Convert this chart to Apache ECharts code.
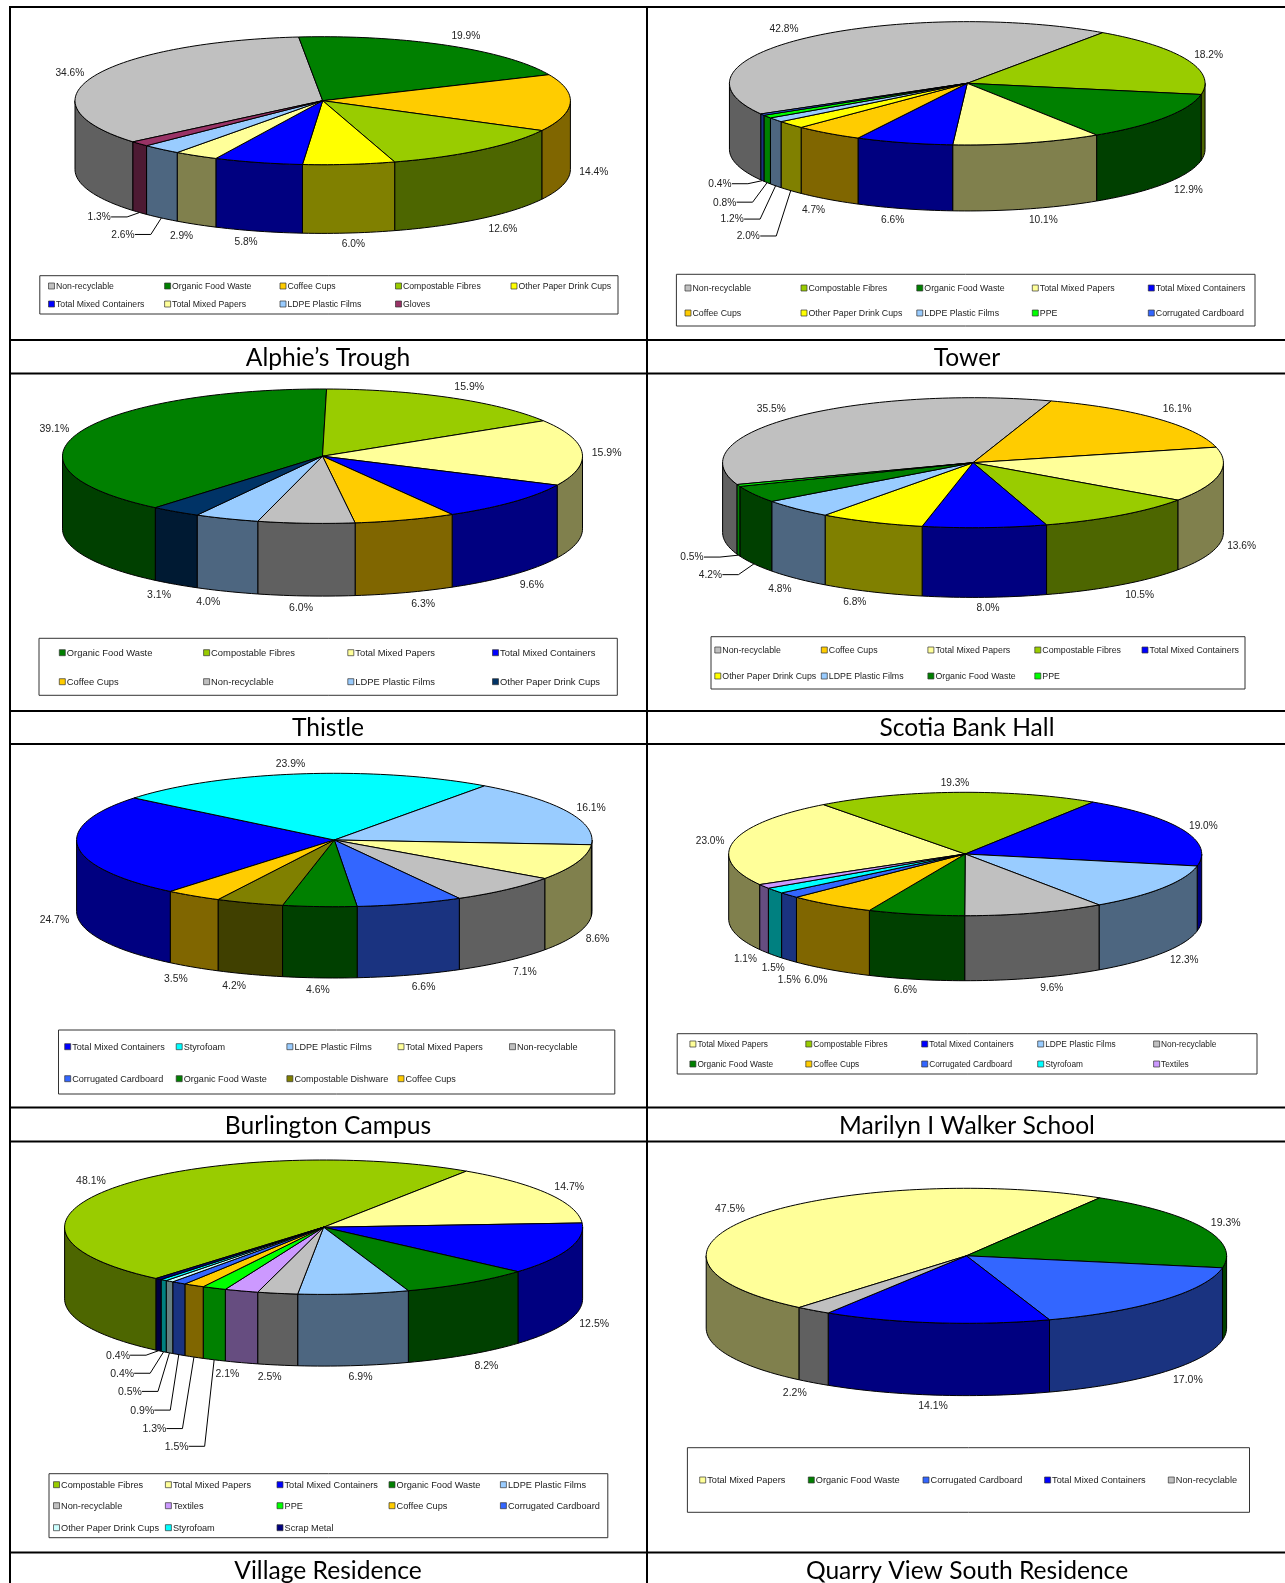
<!DOCTYPE html>
<html><head><meta charset="utf-8">
<style>html,body{margin:0;padding:0;background:#fff}#main{width:1285px;height:1583px}</style>
<script src="https://cdn.jsdelivr.net/npm/echarts@6/dist/echarts.min.js"></script>
</head><body><div id="main"></div>
<script>
// ---------- data ----------
const alphieCategories=['Non-recyclable','Organic Food Waste','Coffee Cups','Compostable Fibres','Other Paper Drink Cups','Total Mixed Containers','Total Mixed Papers','LDPE Plastic Films','Gloves'];
const alphieValues=[34.6,19.9,14.4,12.6,6.0,5.8,2.9,2.6,1.3];
const towerCategories=['Non-recyclable','Compostable Fibres','Organic Food Waste','Total Mixed Papers','Total Mixed Containers','Coffee Cups','Other Paper Drink Cups','LDPE Plastic Films','PPE','Corrugated Cardboard'];
const towerValues=[42.8,18.2,12.9,10.1,6.6,4.7,2.0,1.2,0.8,0.4];
const thistleCategories=['Organic Food Waste','Compostable Fibres','Total Mixed Papers','Total Mixed Containers','Coffee Cups','Non-recyclable','LDPE Plastic Films','Other Paper Drink Cups'];
const thistleValues=[39.1,15.9,15.9,9.6,6.3,6.0,4.0,3.1];
const scotiaCategories=['Non-recyclable','Coffee Cups','Total Mixed Papers','Compostable Fibres','Total Mixed Containers','Other Paper Drink Cups','LDPE Plastic Films','Organic Food Waste','PPE'];
const scotiaValues=[35.5,16.1,13.6,10.5,8.0,6.8,4.8,4.2,0.5];
const burlingtonCategories=['Total Mixed Containers','Styrofoam','LDPE Plastic Films','Total Mixed Papers','Non-recyclable','Corrugated Cardboard','Organic Food Waste','Compostable Dishware','Coffee Cups'];
const burlingtonValues=[24.7,23.9,16.1,8.6,7.1,6.6,4.6,4.2,3.5];
const marilynCategories=['Total Mixed Papers','Compostable Fibres','Total Mixed Containers','LDPE Plastic Films','Non-recyclable','Organic Food Waste','Coffee Cups','Corrugated Cardboard','Styrofoam','Textiles'];
const marilynValues=[23.0,19.3,19.0,12.3,9.6,6.6,6.0,1.5,1.5,1.1];
const villageCategories=['Compostable Fibres','Total Mixed Papers','Total Mixed Containers','Organic Food Waste','LDPE Plastic Films','Non-recyclable','Textiles','PPE','Coffee Cups','Corrugated Cardboard','Other Paper Drink Cups','Styrofoam','Scrap Metal'];
const villageValues=[48.1,14.7,12.5,8.2,6.9,2.5,2.1,1.5,1.3,0.9,0.5,0.4,0.4];
const quarryCategories=['Total Mixed Papers','Organic Food Waste','Corrugated Cardboard','Total Mixed Containers','Non-recyclable'];
const quarryValues=[47.5,19.3,17.0,14.1,2.2];

// ---------- styles ----------
const wasteColors={'Non-recyclable':'#C0C0C0','Organic Food Waste':'#008000','Coffee Cups':'#FFCC00','Compostable Fibres':'#99CC00','Other Paper Drink Cups':'#FFFF00','Total Mixed Containers':'#0000FF','Total Mixed Papers':'#FFFF99','LDPE Plastic Films':'#99CCFF','Gloves':'#993366','PPE':'#00FF00','Corrugated Cardboard':'#3366FF','Styrofoam':'#00FFFF','Compostable Dishware':'#808000','Textiles':'#CC99FF','Scrap Metal':'#000080'};
const FONT_FAMILY='"Liberation Sans", Arial, sans-serif';
const TEXT='#222';

// ---------- layout of the eight cells ----------
const cells=[
 {title:"Alphie’s Trough",tx:328,ty:358,categories:alphieCategories,values:alphieValues,cx:322.7,cy:100.7,rx:247.7,ry:64,depth:68.7,start:-130,labelSize:10.2,legendSize:8.7,
  legend:{box:[39.8,275.7,578.2,38.3],cols:[48.5,164.6,280,395.5,511],rows:[286,304]},leaders:{7:1,8:1},
  nudges:{0:[-1,1],1:[-4,1],2:[1,0],3:[0,-1],4:[-1,0],5:[1,0],6:[5,1],7:[-19,6],8:[-21,-5]}},
 {title:'Tower',tx:967,ty:358,categories:towerCategories,values:towerValues,cx:967.25,cy:83.3,rx:237.8,ry:61.65,depth:66,start:-119.8,labelSize:10.2,legendSize:8.8,
  legend:{box:[676.4,274.3,578.6,51.7],cols:[685,801,916.8,1032.3,1148.3],rows:[288,313]},leaders:{6:1,7:1,8:1,9:1},
  nudges:{0:[0,1],1:[-1,0],2:[1,-2],3:[3,0],4:[2,0],5:[5,0],6:[-23,36],7:[-24,25],8:[-23,12],9:[-23,-4]}},
 {title:'Thistle',tx:328,ty:728,categories:thistleCategories,values:thistleValues,cx:322.5,cy:456.2,rx:260,ry:67.2,depth:72.7,start:-140,labelSize:10.5,legendSize:9.4,
  colors:{'Other Paper Drink Cups':'#003366'},
  legend:{box:[39,638.3,578.3,57],cols:[59.3,203.6,347.8,492.5],rows:[652.7,681.7]},leaders:{},
  nudges:{0:[-2,1],1:[-4,-1],2:[2,1],3:[-1,0],4:[2,0],5:[-2,1],6:[0,0],7:[3,0]}},
 {title:'Scotia Bank Hall',tx:967,ty:728,categories:scotiaCategories,values:scotiaValues,cx:973,cy:462.7,rx:250.4,ry:65,depth:69.7,start:-109.6,labelSize:10.2,legendSize:8.8,
  legend:{box:[711,636.7,534,52.3],cols:[714.8,821.3,927.9,1034.8,1142],rows:[650,676]},leaders:{7:1,8:1},
  nudges:{0:[0,1],1:[-2,0],2:[0,-1],3:[-3,-1],4:[1,0],5:[3,-1],6:[3,0],7:[-24,4],8:[-27,-3]}},
 {title:'Burlington Campus',tx:328,ty:1126.5,categories:burlingtonCategories,values:burlingtonValues,cx:334.3,cy:840,rx:257.7,ry:66.7,depth:71.3,start:-140.5,labelSize:10.4,legendSize:9.1,
  legend:{box:[58.5,1030,556.3,64],cols:[64.7,176.2,286.9,398,509.5],rows:[1046.7,1078.7]},leaders:{},
  nudges:{0:[-1,0],1:[-3,0],2:[1,2],3:[1,0],4:[-1,0],5:[-1,1],6:[1,1],7:[1,1],8:[2,1]}},
 {title:'Marilyn I Walker School',tx:967,ty:1126.5,categories:marilynCategories,values:marilynValues,cx:965.2,cy:854,rx:236.5,ry:61.7,depth:65,start:-119.7,labelSize:10.1,legendSize:8.3,
  legend:{box:[677.2,1033.7,579.8,40.3],cols:[689.9,805.8,921.7,1037.7,1153.6],rows:[1044,1064]},leaders:{},
  nudges:{0:[-1,2],1:[0,1],2:[-2,1],3:[-1,-1],4:[2,-1],5:[0,0],6:[5,-1],7:[20,10],8:[18,4],9:[1,0]}},
 {title:'Village Residence',tx:328,ty:1571,categories:villageCategories,values:villageValues,cx:323.6,cy:1227.2,rx:259,ry:67.2,depth:71.7,start:-139.7,labelSize:10.5,legendSize:9.2,
  colors:{'Other Paper Drink Cups':'#CCFFFF'},
  legend:{box:[49,1473.7,558.8,64],cols:[53.5,165.4,277,389,500.4],rows:[1484.7,1505.7,1527.7]},leaders:{7:1,8:1,9:1,10:1,11:1,12:1},
  nudges:{0:[-3,2],1:[-1,0],2:[3,-2],3:[-1,0],4:[1,0],5:[1,1],6:[2,0],7:[-18,76],8:[-20,61],9:[-17,45],10:[-20,28],11:[-22,11],12:[-21,-6]}},
 {title:'Quarry View South Residence',tx:967,ty:1571,categories:quarryCategories,values:quarryValues,cx:966.4,cy:1255.8,rx:260.2,ry:67.5,depth:72.3,start:-140,labelSize:10.5,legendSize:9.2,
  legend:{box:[687.4,1447.7,562.1,64.6],cols:[699.7,808.3,923,1044.6,1168.3],rows:[1480]},leaders:{},
  nudges:{0:[-2,0],1:[0,0],2:[2,-2],3:[3,0],4:[1,-1]}}
];

// ---------- helpers ----------
const RAD=Math.PI/180;
function halfShade(hex){
  const n=parseInt(hex.slice(1),16);
  const c=[n>>16&255,n>>8&255,n&255].map(v=>Math.round(v/2));
  return 'rgb('+c.join(',')+')';
}
function clamp(v,m){return Math.max(-m,Math.min(m,v));}
function ell(cell,deg,drop){
  return [cell.cx+cell.rx*Math.sin(deg*RAD),cell.cy-cell.ry*Math.cos(deg*RAD)+(drop||0)];
}
function arcPoints(cell,a,b,drop){
  const n=Math.max(2,Math.ceil(Math.abs(b-a)/1.5)),pts=[];
  for(let i=0;i<=n;i++)pts.push(ell(cell,a+(b-a)*i/n,drop));
  return pts;
}
function colorOf(cell,name){return (cell.colors&&cell.colors[name])||wasteColors[name];}

function makeRender(cell){
  const sum=cell.values.reduce((a,b)=>a+b,0);
  let acc=cell.start;
  const spans=cell.values.map(v=>{const a=acc;acc+=v/sum*360;return [a,acc];});
  const labelFont=cell.labelSize+'px '+FONT_FAMILY,legendFont=cell.legendSize+'px '+FONT_FAMILY;
  return function(params,api){
    const i=params.dataIndex,value=api.value(0),name=cell.categories[i];
    const col=colorOf(cell,name),[a,b]=spans[i],children=[];
    // front wall: only the part of the slice that faces the viewer
    for(let k=-1;k<=1;k++){
      const lo=Math.max(a,90+360*k),hi=Math.min(b,270+360*k);
      if(hi>lo){
        const top=arcPoints(cell,lo,hi,0),bot=arcPoints(cell,lo,hi,cell.depth).reverse();
        children.push({type:'polygon',z2:1,shape:{points:top.concat(bot)},style:{fill:halfShade(col),stroke:'#000',lineWidth:1,lineJoin:'round'}});
      }
    }
    // top face
    children.push({type:'polygon',z2:2,shape:{points:[[cell.cx,cell.cy]].concat(arcPoints(cell,a,b,0))},style:{fill:col,stroke:'#000',lineWidth:1,lineJoin:'round'}});
    // percent label
    const mid=(a+b)/2,s=Math.sin(mid*RAD),c=Math.cos(mid*RAD);
    const txt=value.toFixed(1)+'%',hw=txt.length>=5?14.5:11.5;
    const rimDrop=c<0?cell.depth:0,p=ell(cell,mid,rimDrop);
    const n=cell.nudges[i]||[0,0];
    const lx=p[0]+clamp(50*s,hw+8)+n[0],ly=p[1]+clamp(-14*c,10.5)+n[1];
    children.push({type:'text',z2:4,style:{x:lx,y:ly+0.6,text:txt,fill:TEXT,font:labelFont,align:'center',verticalAlign:'middle',textAlign:'center',textVerticalAlign:'middle'}});
    if(cell.leaders[i]){
      const right=lx+hw+0.5;
      children.push({type:'polyline',z2:3,shape:{points:[[right,ly],[right+16,ly],p]},style:{fill:null,stroke:'#000',lineWidth:1}});
    }
    // legend entry
    const lg=cell.legend,nc=lg.cols.length,col2=lg.cols[i%nc],row=lg.rows[Math.floor(i/nc)];
    children.push({type:'rect',z2:4,shape:{x:col2,y:row-3,width:6,height:6},style:{fill:col,stroke:'#333',lineWidth:0.7}});
    children.push({type:'text',z2:4,style:{x:col2+7.5,y:row+0.8,text:name,fill:TEXT,font:legendFont,align:'left',verticalAlign:'middle',textAlign:'left',textVerticalAlign:'middle'}});
    return {type:'group',children};
  };
}

// ---------- table rules and legend frames ----------
const gridH=[[10,1285,7],[10,1285,340],[10,1285,373.5],[10,1285,711],[10,1285,744],[10,1285,1107.5],[10,1285,1141.5],[10,1285,1552.5]];
const gridV=[[10,6,1583],[647,6,1583]];
const graphicEls=[];
gridH.forEach(g=>graphicEls.push({type:'line',silent:true,shape:{x1:g[0],x2:g[1],y1:g[2],y2:g[2]},style:{stroke:'#000',lineWidth:2}}));
gridV.forEach(g=>graphicEls.push({type:'line',silent:true,shape:{x1:g[0],x2:g[0],y1:g[1],y2:g[2]},style:{stroke:'#000',lineWidth:2}}));
cells.forEach(c=>{const b=c.legend.box;graphicEls.push({type:'rect',silent:true,shape:{x:b[0],y:b[1],width:b[2],height:b[3]},style:{fill:'#fff',stroke:'#333',lineWidth:1}});});

const chart=echarts.init(document.getElementById('main'),null,{width:1285,height:1583});
chart.setOption({
  animation:false,
  backgroundColor:'#fff',
  title:cells.map(c=>({text:c.title,left:c.tx,top:c.ty,padding:0,textAlign:'center',textVerticalAlign:'middle',textBaseline:'middle',
    textStyle:{fontFamily:'Lato, Carlito, Calibri, sans-serif',fontSize:24.6,fontWeight:'normal',color:'#000'}})),
  graphic:{elements:graphicEls},
  series:cells.map(c=>({
    type:'custom',name:c.title,coordinateSystem:'none',silent:true,
    renderItem:makeRender(c),
    data:c.values.map((v,i)=>({name:c.categories[i],value:[v]}))
  }))
});
</script></body></html>
